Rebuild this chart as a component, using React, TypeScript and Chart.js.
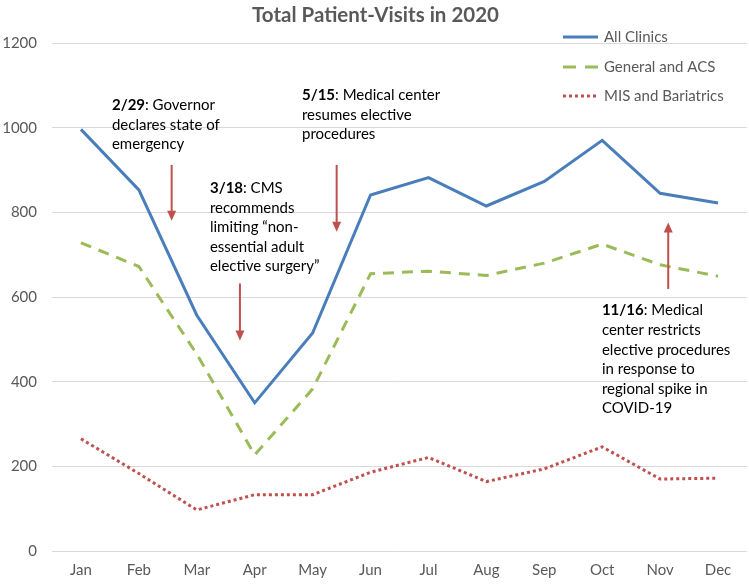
import React, { useEffect, useRef } from "react";
import { Chart, registerables } from "chart.js";

Chart.register(...registerables);

const months = ["Jan", "Feb", "Mar", "Apr", "May", "Jun", "Jul", "Aug", "Sep", "Oct", "Nov", "Dec"];
const allClinics = [996, 853, 557, 350, 515, 841, 882, 815, 873, 970, 845, 822];
const generalACS = [728, 672, 465, 227, 383, 655, 661, 651, 680, 725, 676, 649];
const misBariatrics = [265, 183, 97, 133, 133, 186, 221, 164, 194, 246, 170, 172];
const yMin = 0;
const yMax = 1200;
const yStep = 200;

const titleText = "Total Patient-Visits in 2020";
const seriesNames = ["All Clinics", "General and ACS", "MIS and Bariatrics"];

// annotation anchors in data space (category index, value)
const noteX = [0.535, 2.227, 3.816, 8.995];
const noteY = [1053, 857, 1077, 568];
const noteBold = ["2/29", "3/18", "5/15", "11/16"];
const noteLines = [
  [": Governor", "declares state of", "emergency"],
  [": CMS", "recommends", "limiting \u201cnon-", "essential adult", "elective surgery\u201d"],
  [": Medical center", "resumes elective", "procedures"],
  [": Medical", "center restricts", "elective procedures", "in response to", "regional spike in", "COVID-19"],
];
const arrowX = [1.566, 2.745, 4.415, 10.14];
const arrowFrom = [912, 632, 912, 619];
const arrowTo = [780, 497, 754, 776];

const FONT = "Lato, 'Open Sans', sans-serif";
const GRAY = "#595959";
const BLUE = "#4a7ebb";
const GREEN = "#9bbb59";
const RED = "#c0504d";

const overlay = {
  id: "overlay",
  afterDraw(chart: any) {
    const ctx = chart.ctx as CanvasRenderingContext2D;
    const xs = chart.scales.x;
    const ys = chart.scales.y;
    ctx.save();
    // title
    ctx.fillStyle = GRAY;
    ctx.font = `bold 20.5px ${FONT}`;
    ctx.textAlign = "center";
    ctx.textBaseline = "middle";
    ctx.fillText(titleText, chart.width / 2 + 1, 15);

    // legend
    const legY = [37, 67, 96];
    const legStyles = [
      { c: BLUE, d: [] as number[] },
      { c: GREEN, d: [13, 9] },
      { c: RED, d: [3, 3] },
    ];
    ctx.font = `15px ${FONT}`;
    ctx.textAlign = "left";
    for (let i = 0; i < 3; i++) {
      ctx.beginPath();
      ctx.setLineDash(legStyles[i].d);
      ctx.strokeStyle = legStyles[i].c;
      ctx.lineWidth = 3;
      ctx.moveTo(563, legY[i]);
      ctx.lineTo(598, legY[i]);
      ctx.stroke();
      ctx.setLineDash([]);
      ctx.fillStyle = GRAY;
      ctx.fillText(seriesNames[i], 604, legY[i]);
    }

    // annotation texts
    ctx.fillStyle = "#000";
    const lh = 19.6;
    for (let n = 0; n < noteX.length; n++) {
      const px = xs.getPixelForValue(noteX[n]);
      const py = ys.getPixelForValue(noteY[n]);
      const lines = noteLines[n];
      for (let l = 0; l < lines.length; l++) {
        let x = px;
        const y = py + l * lh;
        if (l === 0) {
          ctx.font = `bold 15px ${FONT}`;
          ctx.fillText(noteBold[n], x, y);
          x += ctx.measureText(noteBold[n]).width;
        }
        ctx.font = `15px ${FONT}`;
        ctx.fillText(lines[l], x, y);
      }
    }

    // arrows
    ctx.strokeStyle = RED;
    ctx.fillStyle = RED;
    ctx.lineWidth = 2;
    for (let a = 0; a < arrowX.length; a++) {
      const x = xs.getPixelForValue(arrowX[a]);
      const y1 = ys.getPixelForValue(arrowFrom[a]);
      const y2 = ys.getPixelForValue(arrowTo[a]);
      const dir = y2 > y1 ? 1 : -1;
      ctx.beginPath();
      ctx.moveTo(x, y1);
      ctx.lineTo(x, y2 - dir * 8);
      ctx.stroke();
      ctx.beginPath();
      ctx.moveTo(x, y2);
      ctx.lineTo(x - 4.5, y2 - dir * 10);
      ctx.lineTo(x + 4.5, y2 - dir * 10);
      ctx.closePath();
      ctx.fill();
    }
    ctx.restore();
  },
};

export default function App() {
  const ref = useRef<HTMLCanvasElement | null>(null);
  useEffect(() => {
    if (!ref.current) return;
    const chart = new Chart(ref.current, {
      type: "line",
      data: {
        labels: months,
        datasets: [
          {
            label: seriesNames[0],
            data: allClinics,
            borderColor: BLUE,
            borderWidth: 3,
            pointRadius: 0,
            tension: 0,
            fill: false,
          },
          {
            label: seriesNames[1],
            data: generalACS,
            borderColor: GREEN,
            borderWidth: 3,
            borderDash: [11, 8],
            pointRadius: 0,
            tension: 0,
            fill: false,
          },
          {
            label: seriesNames[2],
            data: misBariatrics,
            borderColor: RED,
            borderWidth: 3,
            borderDash: [3, 3],
            pointRadius: 0,
            tension: 0,
            fill: false,
          },
        ],
      },
      options: {
        animation: false,
        responsive: true,
        maintainAspectRatio: false,
        layout: { padding: { top: 43, right: 2, left: 0, bottom: 0 } },
        plugins: { legend: { display: false }, title: { display: false }, tooltip: { enabled: false } },
        scales: {
          x: {
            offset: true,
            grid: { display: false, drawTicks: false },
            border: { display: false },
            ticks: { color: GRAY, font: { family: FONT, size: 15 }, padding: 10, maxRotation: 0 },
            afterFit: (s: any) => {
              s.height = 34;
            },
          },
          y: {
            min: yMin,
            max: yMax,
            grid: { color: "#d9d9d9", lineWidth: 1, drawTicks: false },
            border: { display: false },
            ticks: {
              stepSize: yStep,
              color: GRAY,
              font: { family: FONT, size: 15 },
              padding: 15,
              callback: (v: any) => String(v),
            },
            afterFit: (s: any) => {
              s.width = 52;
            },
          },
        },
      },
      plugins: [overlay],
    });
    return () => chart.destroy();
  }, []);
  return (
    <div style={{ position: "fixed", left: 0, top: 0, width: 749, height: 585, background: "#fff" }}>
      <canvas ref={ref} />
    </div>
  );
}
